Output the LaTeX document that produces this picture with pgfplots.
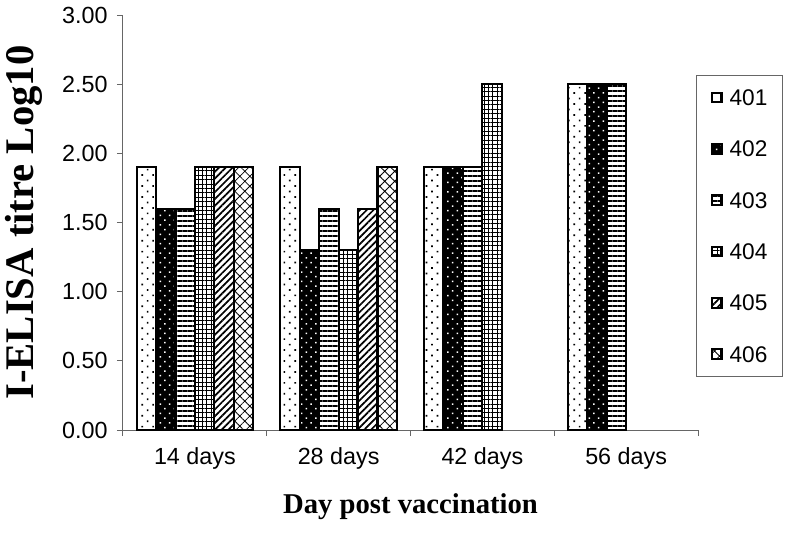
\documentclass[border=0pt]{standalone}
\usepackage{graphicx}
\usepackage{pgfplots}
\pgfplotsset{compat=1.18}
\usetikzlibrary{patterns.meta}
\usepackage{fontspec}
\setmainfont{Liberation Serif}
\newfontfamily\sansf{Liberation Sans}
\pgfplotsset{
  mylegend/.style={legend image code/.code={\draw[##1,line width=1.1pt] (0pt,-3.6pt) rectangle (7.2pt,3.6pt);}},
  s401/.style={draw=black, line width=1.6pt, preaction={fill=white}, pattern={Dots[angle=45,distance=5.8pt,radius=0.9pt]}, pattern color=black, mylegend},
  s402/.style={draw=black, line width=1.6pt, preaction={fill=black}, pattern={Dots[angle=45,distance=5pt,radius=0.8pt]}, pattern color=white, mylegend},
  s403/.style={draw=black, line width=1.6pt, preaction={fill=white}, pattern={Lines[angle=0,distance=3.75pt,line width=2pt]}, pattern color=black, mylegend},
  s404/.style={draw=black, line width=1.6pt, preaction={fill=white}, pattern={Hatch[angle=0,distance=3.3pt,line width=0.6pt]}, pattern color=black, mylegend},
  s405/.style={draw=black, line width=1.6pt, preaction={fill=white}, pattern={Lines[angle=45,distance=3.6pt,line width=1.3pt]}, pattern color=black, mylegend},
  s406/.style={draw=black, line width=1.6pt, preaction={fill=white}, pattern={Hatch[angle=45,distance=5.3pt,line width=0.6pt]}, pattern color=black, mylegend},
}
\begin{document}
\begin{tikzpicture}
\useasboundingbox (-92.25pt,-79.5pt) rectangle (497.25pt,322.5pt);
\begin{axis}[
  at={(0pt,0pt)}, anchor=south west,
  scale only axis, width=431.25pt, height=311.25pt,
  ybar=0pt, bar width=0.135,
  xmin=-0.5, xmax=3.5, ymin=0, ymax=3,
  enlargelimits=false,
  axis x line*=bottom, axis y line*=left,
  axis line style={black!60, line width=0.75pt},
  tick style={black!60, line width=0.75pt},
  tick align=outside, major tick length=4.5pt,
  xtick={-0.5,0.5,1.5,2.5,3.5}, xticklabels={},
  extra x ticks={0,1,2,3},
  extra x tick labels={14 days,28 days,42 days,56 days},
  extra x tick style={major tick length=0pt},
  xticklabel style={yshift=-10pt},
  yticklabel style={xshift=-3.5pt},
  ytick={0,0.5,1,1.5,2,2.5,3},
  /pgf/number format/fixed, /pgf/number format/fixed zerofill, /pgf/number format/precision=2,
  /pgf/number format/assume math mode=true,
  tick label style={font=\sansf\fontsize{17.5}{21}\selectfont},
  ylabel={I-ELISA titre Log10},
  ylabel style={font=\bfseries\fontsize{30.5}{36}\selectfont, at={(axis description cs:-0.1565,0.5)}, anchor=base},
  xlabel={Day post vaccination},
  xlabel style={font=\bfseries\fontsize{21.5}{25}\selectfont, at={(axis description cs:0.5,-0.185)}, anchor=center},
  legend style={at={(axis description cs:0.9965,0.8554)}, anchor=north west, draw=black!60, line width=0.75pt,
    inner xsep=11pt, inner ysep=10.5pt, font=\sansf\fontsize{17}{20}\selectfont,
    row sep=26.5pt, nodes={inner sep=0pt, text height=12pt, text depth=0pt},
    /tikz/every odd column/.append style={column sep=5.5pt}},
  legend cell align=left,
]
\addplot[s401] coordinates {(0,1.9) (1,1.9) (2,1.9) (3,2.5)};
\addplot[s402] coordinates {(0,1.6) (1,1.3) (2,1.9) (3,2.5)};
\addplot[s403] coordinates {(0,1.6) (1,1.6) (2,1.9) (3,2.5)};
\addplot[s404] coordinates {(0,1.9) (1,1.3) (2,2.5)};
\addplot[s405] coordinates {(0,1.9) (1,1.6)};
\addplot[s406] coordinates {(0,1.9) (1,1.9)};
\legend{401,402,403,404,405,406}
\end{axis}
\end{tikzpicture}
\end{document}
